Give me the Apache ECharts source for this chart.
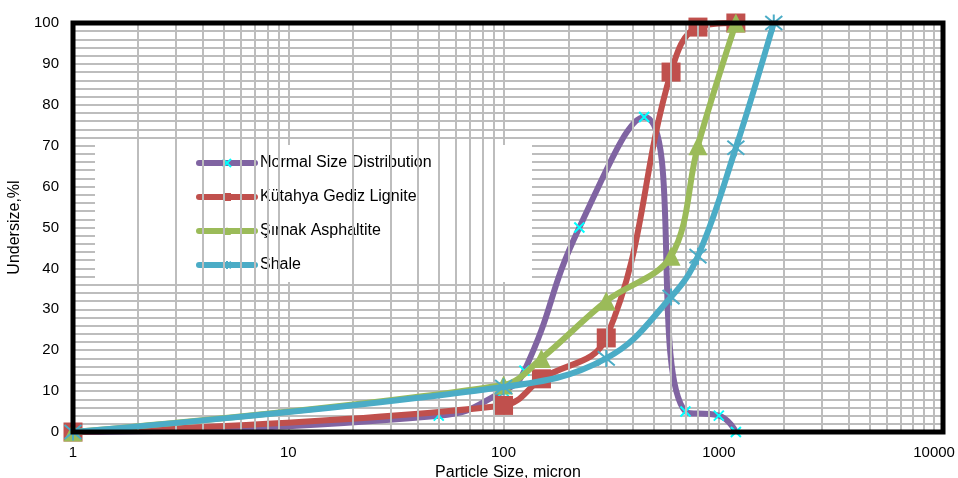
<!DOCTYPE html>
<html>
<head>
<meta charset="utf-8">
<script src="https://cdn.jsdelivr.net/npm/echarts@6/dist/echarts.min.js"></script>
<style>
  html, body { margin: 0; padding: 0; background: #fff; }
  #chart { width: 958px; height: 478px; }
</style>
</head>
<body>
<div id="chart"></div>
<script>
// particle size (micron) / undersize (%)
const normalSize = [1, 50, 100, 125, 225, 450, 700, 1000, 1200];
const normalUnder = [0, 4, 10, 15, 50, 77, 5, 4, 0];

const ligniteSize = [1, 100, 150, 300, 600, 800, 1200];
const ligniteUnder = [0, 6.5, 13, 23, 88, 99, 100];

const asphSize = [1, 100, 150, 300, 600, 800, 1200];
const asphUnder = [0, 11.5, 18, 32, 43, 70, 100];

const shaleSize = [1, 100, 300, 600, 800, 1200, 1800];
const shaleUnder = [0, 11, 18, 33, 43, 69.5, 100];

const seriesNames = ["Normal Size Distribution", "Kütahya Gediz Lignite", "Şırnak Asphaltite", "Shale"];
const xTicks = [1, 10, 100, 1000, 10000];

const pair = (xs, ys) => xs.map((x, i) => [x, ys[i]]);

// minor log gridlines 2..9 per decade
const minorX = [];
for (const d of [1, 10, 100, 1000]) {
  for (let k = 2; k <= 9; k++) minorX.push(d * k);
}

const gridColor = "#BDBDBD";
const font = "'Liberation Sans', Arial, sans-serif";
const xMark = "path://M0,0L10,10M10,0L0,10";
const starMark = "path://M0,0L10,10M10,0L0,10M5,-1L5,11";

const chart = echarts.init(document.getElementById("chart"), null, { renderer: "canvas" });

const option = {
  animation: false,
  backgroundColor: "#fff",
  textStyle: { fontFamily: font, color: "#000" },
  grid: { left: 73, right: 15, top: 23, bottom: 46, containLabel: false, outerBoundsMode: "none" },
  xAxis: {
    type: "log",
    logBase: 10,
    min: 1,
    max: 11000,
    name: "Particle Size, micron",
    nameLocation: "middle",
    nameGap: 30,
    nameTextStyle: { fontSize: 16, color: "#000", fontFamily: font },
    axisLine: { show: false },
    axisTick: { show: false },
    axisLabel: {
      fontSize: 15,
      color: "#000",
      margin: 13,
      fontFamily: font,
      formatter: (v) => (xTicks.includes(Math.round(v)) ? String(Math.round(v)) : ""),
    },
    splitLine: { show: true, lineStyle: { color: gridColor, width: 2 } },
  },
  yAxis: {
    type: "value",
    min: 0,
    max: 100,
    interval: 10,
    name: "Undersize,%l",
    nameLocation: "middle",
    nameGap: 42,
    nameTextStyle: { fontSize: 16, color: "#000", fontFamily: font },
    axisLine: { show: false },
    axisTick: { show: false },
    axisLabel: { fontSize: 15, color: "#000", margin: 14, fontFamily: font },
    splitLine: { show: true, lineStyle: { color: gridColor, width: 2 } },
    minorTick: { show: false, splitNumber: 5 },
    minorSplitLine: { show: true, lineStyle: { color: gridColor, width: 2 } },
  },
  legend: {
    orient: "vertical",
    left: 196,
    top: 155,
    padding: 0,
    itemWidth: 56,
    itemHeight: 10,
    itemGap: 18,
    data: seriesNames,
    lineStyle: { width: 6, cap: "round" },
    textStyle: { fontSize: 16, color: "#000", fontFamily: font },
  },
  graphic: [
    {
      type: "rect",
      z: 1,
      silent: true,
      shape: { x: 95, y: 145, width: 437, height: 137 },
      style: { fill: "#fff" },
    },
    {
      type: "rect",
      z: 100,
      silent: true,
      shape: { x: 73, y: 23, width: 870, height: 409 },
      style: { fill: "none", stroke: "#000", lineWidth: 5 },
    },
  ],
  series: [
    {
      name: "_grid",
      type: "line",
      data: [],
      z: 0,
      silent: true,
      markLine: {
        silent: true,
        symbol: "none",
        animation: false,
        label: { show: false },
        lineStyle: { color: gridColor, width: 2, type: "solid" },
        data: minorX.map((v) => ({ xAxis: v })),
      },
    },
    {
      name: seriesNames[0],
      type: "line",
      smooth: 0.5,
      data: pair(normalSize, normalUnder),
      lineStyle: { color: "#8064A2", width: 6 },
      symbol: xMark,
      symbolSize: 10,
      itemStyle: { color: "#00FFFF", borderColor: "#00FFFF", borderWidth: 2 },
      z: 3,
    },
    {
      name: seriesNames[1],
      type: "line",
      smooth: 0.4,
      data: pair(ligniteSize, ligniteUnder),
      lineStyle: { color: "#C0504D", width: 6 },
      symbol: "rect",
      symbolSize: 19,
      itemStyle: { color: "#C0504D" },
      z: 4,
    },
    {
      name: seriesNames[2],
      type: "line",
      smooth: 0.35,
      data: pair(asphSize, asphUnder),
      lineStyle: { color: "#9BBB59", width: 6 },
      symbol: "triangle",
      symbolSize: 19,
      itemStyle: { color: "#9BBB59" },
      z: 5,
    },
    {
      name: seriesNames[3],
      type: "line",
      smooth: 0.4,
      data: pair(shaleSize, shaleUnder),
      lineStyle: { color: "#4BACC6", width: 6 },
      symbol: starMark,
      symbolSize: 17,
      itemStyle: { color: "#4BACC6", borderColor: "#4BACC6", borderWidth: 2 },
      z: 6,
    },
  ],
};

chart.setOption(option);
</script>
</body>
</html>
